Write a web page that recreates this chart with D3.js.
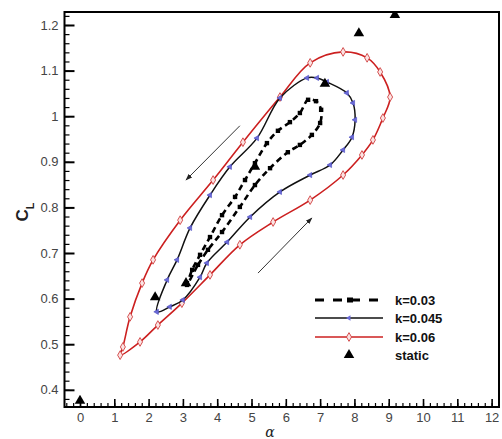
<!DOCTYPE html>
<html>
<head>
<meta charset="utf-8">
<script src="https://cdn.jsdelivr.net/npm/d3@7"></script>
<style>
  body { margin: 0; background: #fff; }
  svg { display: block; }
  .tick text { font-family: "Liberation Sans", Arial, sans-serif; font-size: 13px; fill: #444; }
  .lg { font-family: "Liberation Sans", Arial, sans-serif; font-size: 13px; font-weight: bold; fill: #111; }
</style>
</head>
<body>
<svg id="chart"></svg>
<script>

// alpha (deg), C_L pairs, going round each loop
var k003 = [
  [3.12, 0.630], [3.44, 0.674], [3.73, 0.707], [4.14, 0.746], [4.66, 0.801],
  [5.10, 0.849], [5.54, 0.886], [6.06, 0.921], [6.41, 0.937], [6.76, 0.959],
  [7.00, 0.985], [7.03, 1.014], [6.88, 1.033], [6.65, 1.036], [6.41, 1.007],
  [6.12, 0.987], [5.77, 0.968], [5.45, 0.941], [5.10, 0.897], [4.81, 0.860],
  [4.52, 0.823], [4.14, 0.783], [3.79, 0.735], [3.50, 0.696], [3.27, 0.663]
];

var k0045 = [
  [2.24, 0.571], [2.62, 0.582], [3.00, 0.597], [3.50, 0.647], [3.70, 0.678],
  [4.29, 0.724], [4.96, 0.779], [5.83, 0.834], [6.71, 0.871], [7.29, 0.893],
  [7.67, 0.926], [7.93, 0.954], [8.02, 0.992], [7.96, 1.029], [7.78, 1.051],
  [7.20, 1.075], [6.91, 1.084], [6.62, 1.084], [5.83, 1.040], [5.16, 0.952],
  [4.37, 0.889], [3.79, 0.827], [3.21, 0.755], [2.83, 0.685], [2.54, 0.641]
];

var k006 = [
  [1.17, 0.476], [1.75, 0.505], [2.27, 0.542], [2.97, 0.590], [3.79, 0.652],
  [4.66, 0.718], [5.63, 0.768], [6.71, 0.816], [7.67, 0.871], [8.22, 0.915],
  [8.54, 0.948], [8.83, 0.996], [9.04, 1.042], [8.75, 1.097], [8.37, 1.128],
  [7.67, 1.141], [6.71, 1.117], [5.83, 1.042], [4.75, 0.943], [3.88, 0.860],
  [2.92, 0.772], [2.13, 0.685], [1.81, 0.634], [1.46, 0.560], [1.25, 0.494]
];

var staticPts = [
  [0.0, 0.376], [2.19, 0.603], [3.09, 0.634], [5.10, 0.889],
  [7.14, 1.071], [8.13, 1.182], [9.18, 1.222]
];

// direction arrows: [from, to]
var arrows = [
  [[4.66, 0.979], [3.09, 0.860]],
  [[5.19, 0.656], [6.76, 0.777]]
];

var xTicks = [0, 1, 2, 3, 4, 5, 6, 7, 8, 9, 10, 11, 12];
var yTicks = [0.4, 0.5, 0.6, 0.7, 0.8, 0.9, 1.0, 1.1, 1.2];
var legendLabels = ["k=0.03", "k=0.045", "k=0.06", "static"];

var W = 502, H = 439;
var margin = {left: 64.5, top: 12, right: 3, bottom: 32};
var w = W - margin.left - margin.right;
var h = H - margin.top - margin.bottom;

var svg = d3.select("#chart").attr("width", W).attr("height", H);

var x = d3.scaleLinear().domain([-0.452, 12.215]).range([0, w]);
var y = d3.scaleLinear().domain([0.3623, 1.2285]).range([h, 0]);

var g = svg.append("g").attr("transform", `translate(${margin.left},${margin.top})`);

var defs = svg.append("defs");
defs.append("clipPath").attr("id", "clip")
  .append("rect").attr("width", w).attr("height", h);
defs.append("marker")
  .attr("id", "arrowhead")
  .attr("viewBox", "0 0 10 10")
  .attr("refX", 9).attr("refY", 5)
  .attr("markerWidth", 7).attr("markerHeight", 7)
  .attr("orient", "auto")
  .append("path").attr("d", "M0,1.5 L10,5 L0,8.5 Z").attr("fill", "#222");

// minor ticks
var xMinor = d3.range(-0.4, 12.21, 0.2).map(d => +d.toFixed(1));
var yMinor = d3.range(0.38, 1.221, 0.02).map(d => +d.toFixed(2));

g.append("g").attr("transform", `translate(0,${h})`)
  .call(d3.axisBottom(x).tickValues(xMinor).tickSize(-4).tickFormat(""))
  .call(a => a.select(".domain").remove())
  .selectAll("line").attr("stroke", "#000").attr("stroke-width", 1.2);

g.append("g")
  .call(d3.axisLeft(y).tickValues(yMinor).tickSize(-5).tickFormat(""))
  .call(a => a.select(".domain").remove())
  .selectAll("line").attr("stroke", "#000").attr("stroke-width", 1.2);

// major ticks
var xAxis = g.append("g").attr("transform", `translate(0,${h})`)
  .call(d3.axisBottom(x).tickValues(xTicks).tickSize(-8).tickPadding(6).tickFormat(d3.format("d")));
xAxis.select(".domain").remove();
xAxis.selectAll("line").attr("stroke", "#000").attr("stroke-width", 1.6);

var yAxis = g.append("g")
  .call(d3.axisLeft(y).tickValues(yTicks).tickSize(-10).tickPadding(6).tickFormat(d => String(+d.toFixed(1))));
yAxis.select(".domain").remove();
yAxis.selectAll("line").attr("stroke", "#000").attr("stroke-width", 2);

// frame
g.append("rect").attr("width", w).attr("height", h)
  .attr("fill", "none").attr("stroke", "#000").attr("stroke-width", 2);

var plot = g.append("g").attr("clip-path", "url(#clip)");

var loopLine = d3.line()
  .x(d => x(d[0])).y(d => y(d[1]))
  .curve(d3.curveCatmullRomClosed.alpha(0.5));

// k=0.06 red with hollow diamonds
plot.append("path").datum(k006).attr("d", loopLine)
  .attr("fill", "none").attr("stroke", "#cc2020").attr("stroke-width", 1.6);
plot.selectAll(".m06").data(k006).enter().append("path")
  .attr("class", "m06")
  .attr("transform", d => `translate(${x(d[0])},${y(d[1])})`)
  .attr("d", d3.symbol(d3.symbolDiamond, 22))
  .attr("fill", "#fbe3e3").attr("stroke", "#d04040").attr("stroke-width", 0.9);

// k=0.045 black with small blue triangles
plot.append("path").datum(k0045).attr("d", loopLine)
  .attr("fill", "none").attr("stroke", "#111").attr("stroke-width", 1.5);
plot.selectAll(".m045").data(k0045).enter().append("path")
  .attr("class", "m045")
  .attr("transform", d => `translate(${x(d[0])},${y(d[1])}) rotate(-90)`)
  .attr("d", d3.symbol(d3.symbolTriangle, 12))
  .attr("fill", "#6a6ad8").attr("stroke", "#4a4ac0").attr("stroke-width", 0.6);

// k=0.03 dashed with squares
plot.append("path").datum(k003).attr("d", loopLine)
  .attr("fill", "none").attr("stroke", "#000").attr("stroke-width", 2.6)
  .attr("stroke-dasharray", "6,4");
plot.selectAll(".m03").data(k003).enter().append("rect")
  .attr("class", "m03")
  .attr("x", d => x(d[0]) - 2.2).attr("y", d => y(d[1]) - 2.2)
  .attr("width", 4.4).attr("height", 4.4).attr("fill", "#000");

// static triangles
plot.selectAll(".st").data(staticPts).enter().append("path")
  .attr("class", "st")
  .attr("transform", d => `translate(${x(d[0])},${y(d[1])})`)
  .attr("d", d3.symbol(d3.symbolTriangle, 48))
  .attr("fill", "#000");

// arrows
g.selectAll(".arr").data(arrows).enter().append("line")
  .attr("class", "arr")
  .attr("x1", d => x(d[0][0])).attr("y1", d => y(d[0][1]))
  .attr("x2", d => x(d[1][0])).attr("y2", d => y(d[1][1]))
  .attr("stroke", "#333").attr("stroke-width", 1)
  .attr("marker-end", "url(#arrowhead)");

// axis titles
svg.append("text")
  .attr("transform", "translate(28,212) rotate(-90)")
  .attr("text-anchor", "middle")
  .style("font-family", "Liberation Sans, Arial, sans-serif")
  .style("font-size", "17px").style("font-weight", "bold").attr("fill", "#222")
  .text("C")
  .append("tspan").attr("baseline-shift", "sub").style("font-size", "11px").text("L");

svg.append("text")
  .attr("x", 270).attr("y", 437)
  .attr("text-anchor", "middle")
  .style("font-family", "DejaVu Serif, serif")
  .style("font-size", "14px").style("font-style", "italic").attr("fill", "#222")
  .text("α");

// legend
var lgX0 = 315, lgX1 = 383, lgTx = 395;
var lgY = [300, 318, 337, 355];
var lg = svg.append("g");

lg.append("line").attr("x1", lgX0).attr("x2", lgX1).attr("y1", lgY[0]).attr("y2", lgY[0])
  .attr("stroke", "#000").attr("stroke-width", 3).attr("stroke-dasharray", "9,9");
lg.append("rect").attr("x", 347).attr("y", lgY[0] - 2.5).attr("width", 6).attr("height", 5).attr("fill", "#000");

lg.append("line").attr("x1", lgX0).attr("x2", lgX1).attr("y1", lgY[1]).attr("y2", lgY[1])
  .attr("stroke", "#111").attr("stroke-width", 1.5);
lg.append("path").attr("transform", `translate(349,${lgY[1]}) rotate(-90)`)
  .attr("d", d3.symbol(d3.symbolTriangle, 12)).attr("fill", "#6a6ad8");

lg.append("line").attr("x1", lgX0).attr("x2", lgX1).attr("y1", lgY[2]).attr("y2", lgY[2])
  .attr("stroke", "#cc2020").attr("stroke-width", 1.6);
lg.append("path").attr("transform", `translate(349,${lgY[2]})`)
  .attr("d", d3.symbol(d3.symbolDiamond, 22))
  .attr("fill", "#fbe3e3").attr("stroke", "#d04040").attr("stroke-width", 0.9);

lg.append("path").attr("transform", `translate(349,${lgY[3]})`)
  .attr("d", d3.symbol(d3.symbolTriangle, 48)).attr("fill", "#000");

lg.selectAll(".lg").data(legendLabels).enter().append("text")
  .attr("class", "lg")
  .attr("x", lgTx).attr("y", (d, i) => lgY[i]).attr("dy", "0.36em")
  .text(d => d);

</script>
</body>
</html>
